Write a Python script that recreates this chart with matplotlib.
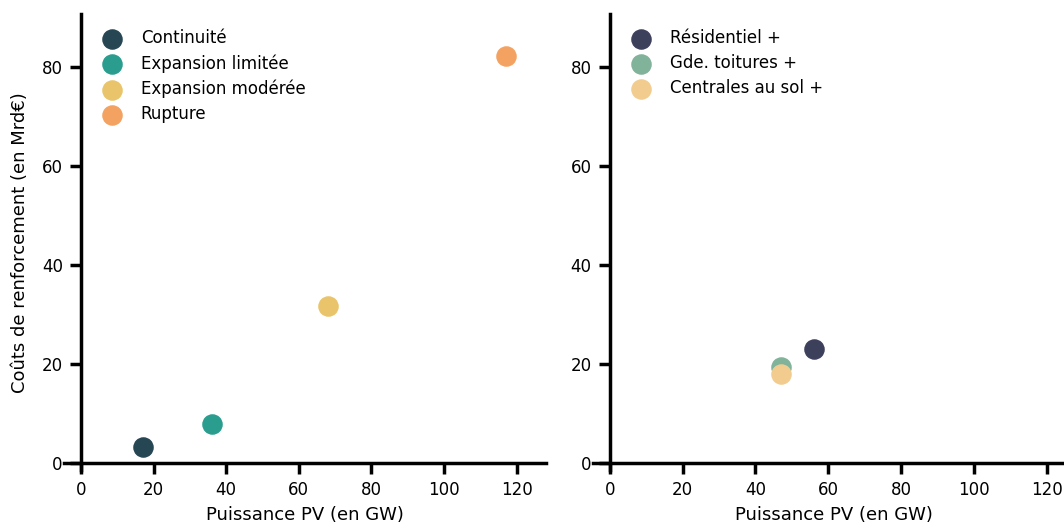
import matplotlib
matplotlib.use("Agg")
import matplotlib.pyplot as plt

# panneau gauche : scénarios
scen = ["Continuité", "Expansion limitée", "Expansion modérée", "Rupture"]
scen_pv = [17, 36, 68, 117]
scen_cout = [3.3, 8, 31.7, 82.3]
scen_col = ["#264653", "#2a9d8f", "#e9c46a", "#f4a261"]

# panneau droit : variantes
var = ["Résidentiel +", "Gde. toitures +", "Centrales au sol +"]
var_pv = [56, 47, 47]
var_cout = [23, 19.5, 18]
var_col = ["#3d405b", "#81b29a", "#f2cc8f"]

fig = plt.figure(figsize=(10.64, 5.26), dpi=100)
ax1 = fig.add_axes([0.060, 0.106, 0.453, 0.867])
ax2 = fig.add_axes([0.557, 0.106, 0.454, 0.867])


def style(ax):
    ax.set_xlim(-4.7, 128)
    ax.set_ylim(-1.4, 90.7)
    for s in ["top", "right"]:
        ax.spines[s].set_visible(False)
    ax.spines["left"].set_position(("data", 0))
    ax.spines["bottom"].set_position(("data", 0))
    for s in ["left", "bottom"]:
        ax.spines[s].set_linewidth(2.5)
    ax.tick_params(width=2.5, length=8, labelsize=12, pad=5, direction="out")
    ax.set_xticks(range(0, 121, 20))
    ax.set_yticks(range(0, 81, 20))
    ax.set_xlabel("Puissance PV (en GW)", fontsize=13, labelpad=5)


for n, x, y, c in zip(scen, scen_pv, scen_cout, scen_col):
    ax1.scatter(x, y, s=190, color=c, label=n, zorder=3)
for n, x, y, c in zip(var, var_pv, var_cout, var_col):
    ax2.scatter(x, y, s=190, color=c, label=n, zorder=3)

style(ax1)
style(ax2)
ax1.set_ylabel("Coûts de renforcement (en Mrd€)", fontsize=13)
ax1.yaxis.set_label_coords(-0.072, 0.5)

for ax in (ax1, ax2):
    ax.legend(loc="upper left", bbox_to_anchor=(0.035, 1.0), frameon=False,
              fontsize=12, handletextpad=0.7, labelspacing=0.42)

fig.savefig("out.png", dpi=100)
